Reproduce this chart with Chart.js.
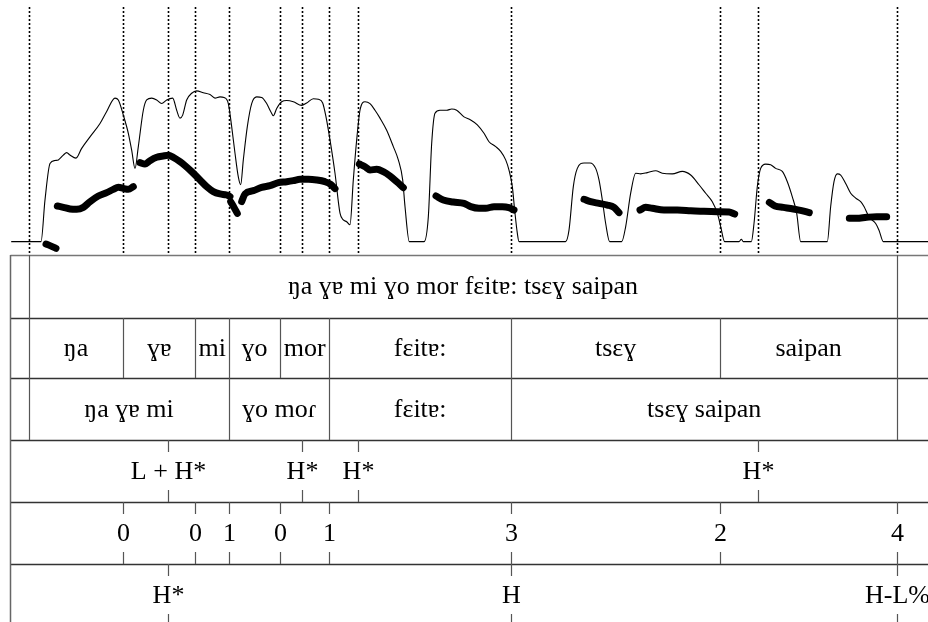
<!DOCTYPE html>
<html>
<head>
<meta charset="utf-8">
<title>ŋa ɣɐ mi ɣo mor fɛitɐ: tsɛɣ saipan</title>
<script src="https://cdn.jsdelivr.net/npm/chart.js@4/dist/chart.umd.min.js"></script>
<style>
  html, body { margin: 0; padding: 0; background: #fff; }
  #wrap { width: 928px; height: 622px; position: relative; }
  canvas { display: block; }
</style>
</head>
<body>
<div id="wrap"><canvas id="c" width="928" height="622"></canvas></div>
<script>
// ---- Intensity contour (time in s, level in dB) ----
const intensityTimes = [
  0.003, 0.0775, 0.0875, 0.100, 0.1125, 0.1208, 0.1333, 0.1417, 0.150, 0.165,
  0.1792, 0.200, 0.225, 0.2417, 0.2625, 0.2708, 0.2833, 0.2958, 0.3042, 0.3125,
  0.3208, 0.3333, 0.3417, 0.3542, 0.3667, 0.3792, 0.3917, 0.4067, 0.4167, 0.425,
  0.4317, 0.4417, 0.4542, 0.4667, 0.4833, 0.500, 0.5125, 0.525, 0.535, 0.5458,
  0.5542, 0.5625, 0.5708, 0.5767, 0.5833, 0.5933, 0.6042, 0.6167, 0.6292, 0.6417,
  0.6517, 0.6583, 0.6667, 0.6792, 0.6917, 0.7083, 0.7292, 0.7417, 0.7583, 0.7708,
  0.7817, 0.790, 0.800, 0.8125, 0.825, 0.8333, 0.8417, 0.850, 0.8583, 0.8667,
  0.875, 0.8875, 0.900, 0.9125, 0.925, 0.9417, 0.9583, 0.9708, 0.9817, 0.9875,
  0.9983, 1.035, 1.0458, 1.0542, 1.0625, 1.075, 1.0917, 1.1042, 1.1167, 1.135,
  1.1517, 1.1683, 1.185, 1.1975, 1.2142, 1.2267, 1.2392, 1.2475, 1.2558, 1.2617,
  1.2683, 1.2725, 1.389, 1.3975, 1.4083, 1.4183, 1.435, 1.450, 1.4642, 1.4725,
  1.4808, 1.4892, 1.4992, 1.5292, 1.5392, 1.5517, 1.5642, 1.5767, 1.5933, 1.6142,
  1.6308, 1.6558, 1.6808, 1.7017, 1.7225, 1.7392, 1.7558, 1.7683, 1.7767, 1.7867,
  1.8225, 1.8283, 1.8333, 1.8533, 1.860, 1.8683, 1.8767, 1.8892, 1.9017, 1.9142,
  1.9308, 1.9433, 1.9558, 1.9667, 1.9767, 2.0433, 2.0517, 2.060, 2.0683, 2.0767,
  2.0892, 2.1017, 2.1142, 2.1267, 2.135, 2.1475, 2.1642, 2.1725, 2.1833, 2.295
];
const intensityDb = [
  50.1, 50.1, 57.0, 63.0, 63.5, 63.6, 64.4, 64.8, 64.4, 63.9,
  65.5, 67.4, 69.6, 71.6, 73.8, 73.5, 71.0, 68.0, 65.2, 62.2,
  65.8, 71.8, 73.5, 73.8, 73.5, 72.9, 73.5, 73.8, 71.8, 70.5,
  71.0, 73.5, 74.6, 75.0, 74.7, 74.4, 73.8, 74.0, 73.9, 72.9,
  69.1, 64.7, 60.8, 59.5, 63.6, 69.1, 72.9, 74.0, 73.9, 72.9,
  71.6, 70.9, 72.1, 73.2, 73.4, 73.2, 72.6, 73.0, 73.7, 73.6,
  73.0, 70.7, 66.9, 61.4, 54.8, 53.7, 53.4, 52.9, 60.3, 66.9,
  71.8, 73.2, 72.9, 71.8, 70.5, 68.5, 65.8, 63.6, 60.3, 55.9,
  50.1, 50.1, 54.2, 66.3, 71.3, 71.8, 71.8, 72.0, 71.8, 70.7,
  70.2, 69.4, 68.0, 66.6, 65.8, 65.0, 63.6, 61.9, 59.2, 55.3,
  51.5, 50.1, 50.1, 52.0, 59.2, 62.2, 63.1, 63.1, 62.2, 60.3,
  57.0, 53.1, 50.1, 50.1, 52.6, 58.1, 61.4, 61.3, 61.5, 61.8,
  61.4, 61.3, 61.7, 61.1, 59.5, 58.1, 56.7, 54.8, 52.6, 50.1,
  50.1, 50.5, 50.1, 50.1, 53.1, 59.2, 62.2, 62.9, 62.8, 62.2,
  61.7, 60.0, 57.5, 54.8, 50.1, 50.1, 55.9, 60.0, 61.3, 61.1,
  59.7, 58.1, 57.3, 56.7, 55.9, 54.2, 53.1, 52.0, 50.1, 50.1
];

// ---- Pitch track (time in s, F0 in Hz; null = unvoiced) ----
const pitchTimes = [
  0.090, 0.100, 0.115, 0.116,
  0.1183, 0.1333, 0.150, 0.1667, 0.1833, 0.200, 0.2208, 0.2417, 0.2583, 0.2708, 0.2833, 0.2958, 0.3083, 0.315,
  0.325, 0.3375, 0.350, 0.3667, 0.3833, 0.3958, 0.4083, 0.425, 0.4375, 0.4542, 0.475, 0.4917, 0.5083, 0.525, 0.5417, 0.550, 0.5508,
  0.5517, 0.560, 0.5683, 0.570,
  0.5792, 0.5875, 0.6083, 0.6292, 0.650, 0.6708, 0.6917, 0.7083, 0.725, 0.7458, 0.7667, 0.7875, 0.8017, 0.8125, 0.84,
  0.8733, 0.8875, 0.900, 0.9167, 0.9333, 0.950, 0.9667, 0.9833, 1.02,
  1.065, 1.0833, 1.1083, 1.135, 1.1517, 1.1725, 1.1892, 1.210, 1.2308, 1.2475, 1.260, 1.30,
  1.435, 1.4517, 1.4725, 1.4933, 1.510, 1.5225, 1.55,
  1.575, 1.5892, 1.6058, 1.635, 1.6683, 1.7017, 1.735, 1.7683, 1.7975, 1.8117, 1.85,
  1.8983, 1.9125, 1.9333, 1.9583, 1.9792, 1.9983, 2.05,
  2.0983, 2.1167, 2.1417, 2.1667, 2.1917
];
const pitchHz = [
  93.3, 90.6, 86.1, null,
  156.7, 154.4, 151.7, 151.1, 154.4, 163.9, 173.3, 178.9, 184.4, 187.8, 186.1, 184.4, 188.9, null,
  228.9, 226.7, 232.2, 237.8, 240.0, 241.1, 237.8, 230.6, 223.9, 213.9, 200.0, 188.9, 180.6, 176.7, 175.0, 172.2, null,
  163.9, 154.4, 144.4, null,
  163.9, 176.7, 182.2, 187.8, 190.6, 195.6, 197.2, 198.9, 201.1, 201.1, 200.0, 197.2, 192.8, 185.6, null,
  226.7, 222.2, 216.7, 217.8, 213.9, 206.7, 197.2, 187.2, null,
  173.3, 166.7, 163.3, 161.1, 155.6, 152.8, 152.8, 155.6, 155.6, 153.9, 150.0, null,
  167.8, 163.9, 161.1, 158.3, 154.4, 145.6, null,
  150.0, 154.4, 152.8, 150.0, 150.0, 148.9, 147.8, 147.2, 146.7, 143.3, null,
  162.8, 156.7, 154.4, 151.7, 148.9, 145.6, null,
  136.1, 136.1, 137.8, 138.9, 138.9
];

// ---- Annotation tiers ----
const utteranceBounds = [0.047, 2.218];
const utteranceLabels = ["ŋa ɣɐ mi ɣo mor fɛitɐ: tsɛɣ saipan"];

const wordBounds = [0.047, 0.283, 0.463, 0.548, 0.675, 0.798, 1.253, 1.775, 2.218];
const wordLabels = ["ŋa", "ɣɐ", "mi", "ɣo", "mor", "fɛitɐ:", "tsɛɣ", "saipan"];

const phraseBounds = [0.047, 0.548, 0.798, 1.253, 2.218];
const phraseLabels = ["ŋa ɣɐ mi", "ɣo moɾ", "fɛitɐ:", "tsɛɣ saipan"];

const accentTimes = [0.395, 0.730, 0.870, 1.870];
const accentLabels = ["L + H*", "H*", "H*", "H*"];

const breakTimes = [0.283, 0.463, 0.548, 0.675, 0.798, 1.253, 1.775, 2.218];
const breakLabels = ["0", "0", "1", "0", "1", "3", "2", "4"];

const toneTimes = [0.395, 1.253, 2.218];
const toneLabels = ["H*", "H", "H-L%"];

const tStart = -0.025, tEnd = 2.295, gridStart = 0;

// tier stack below the signal panel
const tiers = [
  { kind: "interval", bounds: utteranceBounds, labels: utteranceLabels },
  { kind: "interval", bounds: wordBounds, labels: wordLabels },
  { kind: "interval", bounds: phraseBounds, labels: phraseLabels },
  { kind: "point", times: accentTimes, labels: accentLabels },
  { kind: "point", times: breakTimes, labels: breakLabels },
  { kind: "point", times: toneTimes, labels: toneLabels }
];
const tierTops = [255, 318, 378, 440, 502, 564, 626];
const FONT = '26px "Liberation Serif", "Times New Roman", "DejaVu Serif", serif';

const textGridPlugin = {
  id: "textGrid",
  afterDatasetsDraw(chart) {
    const ctx = chart.ctx;
    const xs = chart.scales.x;
    const W = chart.width;
    const px = t => Math.round(xs.getPixelForValue(t)) + 0.5;
    ctx.save();

    // dotted guides through the signal panel at every tier mark
    const marks = new Set();
    tiers.forEach(tr => (tr.bounds || tr.times).forEach(t => marks.add(t)));
    ctx.strokeStyle = "#000";
    ctx.lineWidth = 1.6;
    ctx.setLineDash([2, 2]);
    marks.forEach(t => {
      const x = px(t);
      ctx.beginPath();
      ctx.moveTo(x, 7);
      ctx.lineTo(x, tierTops[0]);
      ctx.stroke();
    });
    ctx.setLineDash([]);

    // tier frame
    const x0 = px(gridStart);
    ctx.lineWidth = 1.5;
    for (let i = 0; i < tierTops.length; i++) {
      ctx.strokeStyle = i === 0 ? "#777" : "#333";
      ctx.beginPath();
      ctx.moveTo(x0, tierTops[i] + 0.5);
      ctx.lineTo(W, tierTops[i] + 0.5);
      ctx.stroke();
    }
    ctx.strokeStyle = "#666";
    ctx.lineWidth = 1.5;
    ctx.beginPath();
    ctx.moveTo(x0, tierTops[0]);
    ctx.lineTo(x0, chart.height);
    ctx.stroke();

    ctx.font = FONT;
    ctx.fillStyle = "#000";
    ctx.textAlign = "center";
    ctx.textBaseline = "middle";

    tiers.forEach((tr, i) => {
      const top = tierTops[i], bot = tierTops[i + 1];
      const mid = (top + bot) / 2;
      ctx.strokeStyle = "#555";
      ctx.lineWidth = 1.2;
      if (tr.kind === "interval") {
        tr.bounds.forEach(t => {
          const x = px(t);
          ctx.beginPath();
          ctx.moveTo(x, top);
          ctx.lineTo(x, bot);
          ctx.stroke();
        });
        tr.labels.forEach((lab, k) => {
          const xm = (xs.getPixelForValue(tr.bounds[k]) + xs.getPixelForValue(tr.bounds[k + 1])) / 2;
          ctx.fillText(lab, xm, mid + 1);
        });
      } else {
        tr.times.forEach((t, k) => {
          const x = px(t);
          ctx.beginPath();
          ctx.moveTo(x, top);
          ctx.lineTo(x, top + 12);
          ctx.moveTo(x, bot - 12);
          ctx.lineTo(x, bot);
          ctx.stroke();
          ctx.fillText(tr.labels[k], x, mid + 1);
        });
      }
    });
    ctx.restore();
  }
};

const intensityData = intensityTimes.map((t, i) => ({ x: t, y: intensityDb[i] }));
const pitchData = pitchTimes.map((t, i) => ({ x: t, y: pitchHz[i] }));

new Chart(document.getElementById("c"), {
  type: "line",
  data: {
    datasets: [
      {
        label: "Intensity (dB)",
        data: intensityData,
        yAxisID: "yI",
        borderColor: "#000",
        borderWidth: 1.1,
        pointRadius: 0,
        cubicInterpolationMode: "monotone",
        fill: false
      },
      {
        label: "F0 (Hz)",
        data: pitchData,
        yAxisID: "yP",
        borderColor: "#000",
        borderWidth: 7,
        borderCapStyle: "round",
        borderJoinStyle: "round",
        pointRadius: 0,
        spanGaps: false,
        cubicInterpolationMode: "monotone",
        fill: false
      }
    ]
  },
  options: {
    responsive: false,
    animation: false,
    devicePixelRatio: 1,
    layout: { padding: { left: 0, right: 0, top: 0, bottom: 367 } },
    plugins: { legend: { display: false }, tooltip: { enabled: false } },
    scales: {
      x: { type: "linear", min: tStart, max: tEnd, display: false },
      yI: { type: "linear", min: 47.9, max: 90, display: false },
      yP: { type: "linear", min: 75, max: 500, display: false }
    }
  },
  plugins: [textGridPlugin]
});
</script>
</body>
</html>
